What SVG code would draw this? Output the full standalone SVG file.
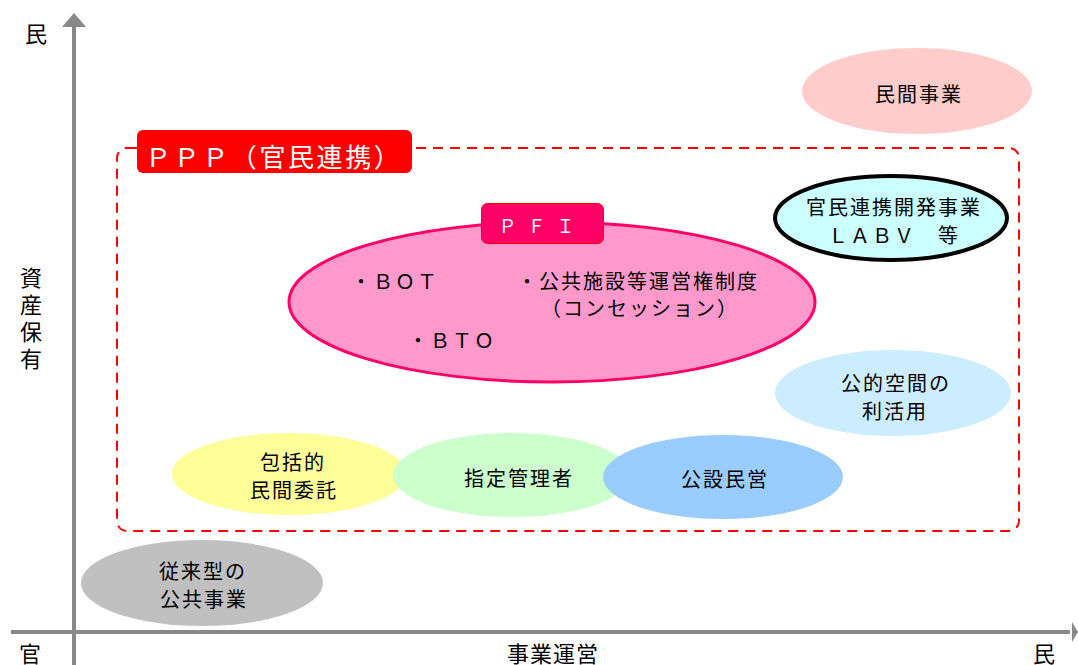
<svg xmlns="http://www.w3.org/2000/svg" width="1078" height="665" viewBox="0 0 1078 665">
<style>
text{font-family:"Noto Sans CJK JP","Noto Sans",sans-serif;fill:#000}
.lbl{font-size:20px;letter-spacing:2px;text-anchor:middle}
.ax{font-size:22px}
.pfi{font-size:20px;letter-spacing:2px}
</style>
<rect width="1078" height="665" fill="#fff"/>
<g id="axes">
<line x1="74" y1="24" x2="74" y2="665" stroke="#888" stroke-width="4"/>
<polygon points="74,13 62,27 86,27" fill="#888"/>
<line x1="11" y1="632" x2="1070" y2="632" stroke="#888" stroke-width="4"/>
<polygon points="1078,632 1072,622 1072,642" fill="#888"/>
<text class="ax" x="25" y="42">民</text>
<text class="ax" x="19" y="662">官</text>
<text class="ax" x="507" y="662" letter-spacing="1">事業運営</text>
<text class="ax" x="1033" y="662">民</text>
<text class="ax" x="31" y="267" writing-mode="vertical-rl" letter-spacing="5">資産保有</text>
</g>
<g id="ppp">
<rect x="117" y="148" width="902" height="383" rx="10" fill="none" stroke="#FF0000" stroke-width="2" stroke-dasharray="10,7"/>
<rect x="137" y="130" width="275" height="43" rx="6" fill="#FF0000"/>
<text x="145" y="167" font-size="26" letter-spacing="2.6" style="fill:#fff">ＰＰＰ（官民連携）</text>
</g>
<g id="minkan">
<ellipse cx="917" cy="91" rx="115" ry="43" fill="#FFCCCC"/>
<text class="lbl" x="919" y="102">民間事業</text>
</g>
<g id="labv">
<ellipse cx="891" cy="218" rx="116" ry="42" fill="#CCFFFF" stroke="#000" stroke-width="4"/>
<text class="lbl" x="894" y="215">官民連携開発事業</text>
<text class="lbl" x="894" y="243">ＬＡＢＶ　等</text>
</g>
<g id="pfi">
<ellipse cx="552" cy="302" rx="263" ry="80" fill="#FF99CC" stroke="#FF0066" stroke-width="3"/>
<rect x="481.5" y="203.5" width="122" height="40" rx="6" fill="#FF0066" stroke="#FF0000" stroke-width="1"/>
<text x="542" y="233" font-size="18" letter-spacing="11" text-anchor="middle" style="fill:#fff">ＰＦＩ</text>
<text class="pfi" x="351" y="289">・ＢＯＴ</text>
<text class="pfi" x="517" y="289">・公共施設等運営権制度</text>
<text class="pfi" x="541" y="316">（コンセッション）</text>
<text class="pfi" x="408" y="348">・ＢＴＯ</text>
</g>
<g id="kouteki">
<ellipse cx="893" cy="393" rx="118" ry="43" fill="#CCECFF"/>
<text class="lbl" x="896" y="391">公的空間の</text>
<text class="lbl" x="895" y="419">利活用</text>
</g>
<g id="houkatsu">
<ellipse cx="289" cy="474" rx="117" ry="41" fill="#FFFF99"/>
<text class="lbl" x="293" y="470">包括的</text>
<text class="lbl" x="294" y="498">民間委託</text>
</g>
<g id="shitei">
<ellipse cx="512" cy="475" rx="119" ry="42" fill="#CCFFCC"/>
<text class="lbl" x="519" y="486">指定管理者</text>
</g>
<g id="kousetsu">
<ellipse cx="723" cy="477" rx="120" ry="42" fill="#99CCFF"/>
<text class="lbl" x="725" y="487">公設民営</text>
</g>
<g id="juurai">
<ellipse cx="202" cy="583" rx="121" ry="43" fill="#C0C0C0"/>
<text class="lbl" x="203" y="579">従来型の</text>
<text class="lbl" x="204" y="607">公共事業</text>
</g>
</svg>
